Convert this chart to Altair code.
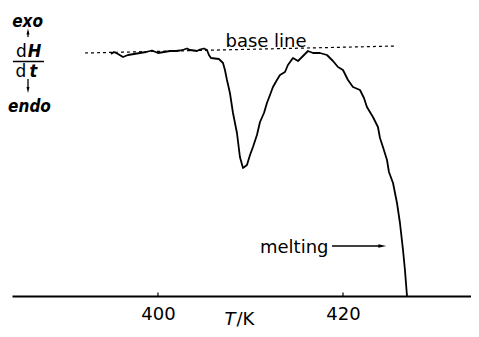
import altair as alt
import pandas as pd

# ---- data (T in K, dH/dt in arbitrary units) ----
temperature = [394.92, 395.24, 395.68, 396.22, 396.76, 397.41, 398.05, 398.70, 399.35, 400.00,
               400.65, 401.30, 401.95, 402.38, 402.81, 403.14, 403.46, 403.89, 404.22, 404.54,
               404.97, 405.30, 405.51, 405.73, 406.16, 406.59, 407.03, 407.24, 407.46, 407.78,
               408.11, 408.54, 408.86, 409.19, 409.62, 409.95, 410.27, 410.70, 411.03, 411.46,
               411.78, 412.11, 412.43, 412.86, 413.19, 413.73, 414.05, 414.59, 415.14, 415.68,
               416.22, 416.76, 417.51, 418.27, 418.92, 419.46, 420.00, 420.54, 421.08, 421.84,
               422.27, 422.59, 423.24, 423.78, 424.00, 424.32, 424.76, 424.97, 425.41, 425.84,
               426.16, 426.49, 426.70, 426.92]
dhdt = [24.2, 24.4, 24.2, 23.9, 24.1, 24.2, 24.3, 24.4, 24.55, 24.3,
        24.4, 24.5, 24.5, 24.55, 24.65, 24.75, 24.6, 24.55, 24.5, 24.65,
        24.75, 24.6, 24.1, 23.8, 23.75, 23.7, 23.3, 22.6, 21.6, 20.3,
        18.3, 16.3, 13.9, 12.8, 13.1, 14.1, 14.9, 16.1, 17.4, 18.3,
        19.3, 20.1, 20.9, 21.6, 22.1, 22.4, 23.1, 23.8, 23.5, 24.0,
        24.5, 24.3, 24.3, 24.1, 23.5, 22.9, 22.6, 21.6, 20.9, 20.6,
        19.8, 18.9, 17.9, 16.9, 15.8, 14.9, 13.6, 12.4, 11.3, 9.3,
        7.3, 4.6, 2.6, 0.0]

baseline_T = [392.11, 425.84]
baseline_dhdt = [24.3, 25.0]

tick_values = [400, 420]

X_DOMAIN = [384.22, 433.84]
Y_DOMAIN = [0, 28.8]

curve_df = pd.DataFrame({"T": temperature, "v": dhdt})
base_df = pd.DataFrame({"T": baseline_T, "v": baseline_dhdt})

xs = alt.Scale(domain=X_DOMAIN, nice=False, zero=False)
ys = alt.Scale(domain=Y_DOMAIN, nice=False, zero=False)
x_axis = alt.Axis(values=tick_values, title=None, grid=False, ticks=False, tickSize=0,
                  labelPadding=9, labelFont="DejaVu Sans", labelFontSize=18,
                  labelColor="black", domainColor="black", domainWidth=2, format="d")


def X(field="T"):
    return alt.X(f"{field}:Q", scale=xs, axis=x_axis)


def Y(field="v"):
    return alt.Y(f"{field}:Q", scale=ys, axis=None)


curve = alt.Chart(curve_df).mark_line(color="black", strokeWidth=1.8,
                                      strokeJoin="round").encode(x=X(), y=Y())

base = alt.Chart(base_df).mark_line(color="black", strokeWidth=1.2,
                                    strokeDash=[3, 3]).encode(x=X(), y=Y())

# small upward ticks at the labelled temperatures
tick_df = pd.DataFrame({"T": tick_values, "v0": [0, 0], "v1": [0.35, 0.35]})
ticks = alt.Chart(tick_df).mark_rule(color="black", strokeWidth=1.2).encode(
    x=X(), y=Y("v0"), y2="v1")

# annotation text (positions in data units)
main_txt = pd.DataFrame({"T": [411.68], "v": [24.9], "t": ["base line"]})
t_base = alt.Chart(main_txt).mark_text(font="DejaVu Sans", fontSize=18, align="center",
                                       baseline="alphabetic", color="black").encode(
    x=X(), y=Y(), text="t:N")

melt_txt = pd.DataFrame({"T": [411.03], "v": [4.3], "t": ["melting"]})
t_melt = alt.Chart(melt_txt).mark_text(font="DejaVu Sans", fontSize=18, align="left",
                                       baseline="alphabetic", color="black").encode(
    x=X(), y=Y(), text="t:N")

arrow_df = pd.DataFrame({"T": [418.81], "T2": [424.0], "v": [5.0]})
arrow_line = alt.Chart(arrow_df).mark_rule(color="black", strokeWidth=1.3).encode(
    x=X(), x2="T2", y=Y())
head_df = pd.DataFrame({"T": [424.25], "v": [5.0]})
arrow_head = alt.Chart(head_df).mark_point(shape="M-1,-0.45L1,0L-1,0.45Z", size=64,
                                           filled=True, color="black", opacity=1).encode(
    x=X(), y=Y())

NARROW = "Liberation Sans Narrow, DejaVu Sans Condensed, sans-serif"
ylab_bi = pd.DataFrame({"T": [385.9, 386.11], "v": [26.9, 18.45], "t": ["exo", "endo"]})
t_ylab_bi = alt.Chart(ylab_bi).mark_text(font=NARROW, fontSize=17, fontWeight="bold",
                                         fontStyle="italic", align="center",
                                         baseline="alphabetic", color="black").encode(
    x=X(), y=Y(), text="t:N")

ylab_d = pd.DataFrame({"T": [385.24, 385.19], "v": [23.9, 21.9], "t": ["d", "d"]})
t_ylab_d = alt.Chart(ylab_d).mark_text(font="DejaVu Sans", fontSize=17, align="center",
                                       baseline="alphabetic", color="black").encode(
    x=X(), y=Y(), text="t:N")

ylab_it = pd.DataFrame({"T": [386.65, 386.54], "v": [23.9, 21.9], "t": ["H", "t"]})
t_ylab_it = alt.Chart(ylab_it).mark_text(font=NARROW, fontSize=18, fontWeight="bold",
                                         fontStyle="italic", align="center",
                                         baseline="alphabetic", color="black").encode(
    x=X(), y=Y(), text="t:N")

frac_df = pd.DataFrame({"T": [384.32], "T2": [387.68], "v": [23.45]})
frac = alt.Chart(frac_df).mark_rule(color="black", strokeWidth=1.5).encode(
    x=X(), x2="T2", y=Y())

varrow_df = pd.DataFrame({"T": [385.95, 385.95], "v": [25.9, 21.7], "v2": [26.4, 20.7]})
varrows = alt.Chart(varrow_df).mark_rule(color="black", strokeWidth=1.3).encode(
    x=X(), y=Y(), y2="v2")
up_df = pd.DataFrame({"T": [385.95], "v": [26.45]})
up_head = alt.Chart(up_df).mark_point(shape="M-0.5,1L0,-1L0.5,1Z", size=36, filled=True,
                                      color="black", opacity=1).encode(x=X(), y=Y())
down_df = pd.DataFrame({"T": [385.95], "v": [20.6]})
down_head = alt.Chart(down_df).mark_point(shape="M-0.5,-1L0,1L0.5,-1Z", size=36, filled=True,
                                          color="black", opacity=1).encode(x=X(), y=Y())

# x-axis title T/K with italic T
tk_it = pd.DataFrame({"T": [407.8], "v": [-2.85], "t": ["T"]})
t_tk_it = alt.Chart(tk_it).mark_text(font="DejaVu Sans", fontSize=18, fontStyle="italic",
                                     align="center", baseline="alphabetic",
                                     color="black").encode(x=X(), y=Y(), text="t:N")
tk_up = pd.DataFrame({"T": [409.45], "v": [-2.85], "t": ["/K"]})
t_tk_up = alt.Chart(tk_up).mark_text(font="DejaVu Sans", fontSize=18, align="center",
                                     baseline="alphabetic", color="black").encode(
    x=X(), y=Y(), text="t:N")

chart = alt.layer(
    base, curve, ticks, t_base, t_melt, arrow_line, arrow_head,
    t_ylab_bi, t_ylab_d, t_ylab_it, frac, varrows, up_head, down_head,
    t_tk_it, t_tk_up
).properties(
    width=459, height=288,
    padding={"left": 4, "top": 0, "right": 0, "bottom": 33},
    autosize=alt.AutoSizeParams(type="none"),
    background="white",
).configure_view(stroke=None)

chart.save("out.html", embed_options={"renderer": "svg", "actions": False})
